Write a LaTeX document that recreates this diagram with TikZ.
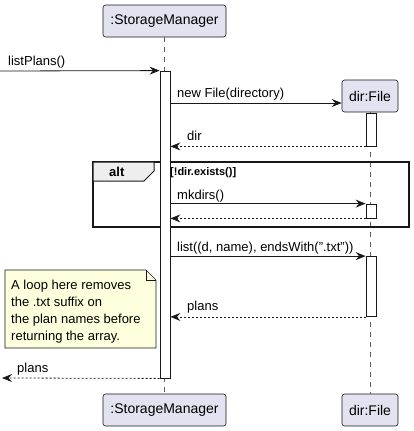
\documentclass[tikz,border=0pt]{standalone}
\usepackage{fontspec}
\setmainfont{Liberation Sans}
\usetikzlibrary{arrows.meta}
\definecolor{partfill}{HTML}{E2E2F0}
\definecolor{ink}{HTML}{181818}
\definecolor{notefill}{HTML}{FEFFDD}
\definecolor{tabfill}{HTML}{EEEEEE}
\begin{document}
\begin{tikzpicture}[x=1pt,y=-1pt,
  part/.style={draw=ink, fill=partfill, rounded corners=2.5pt, line width=0.6pt,
    minimum height=32pt, inner sep=0pt, font=\fontsize{14}{16}\selectfont, text=black},
  bar/.style={draw=ink, fill=white, line width=0.8pt, minimum width=10pt, inner sep=0pt},
  lifeline/.style={draw=ink!70, line width=0.6pt, dash pattern=on 5pt off 5pt},
  msg/.style={draw=ink, line width=0.8pt, -{Stealth[length=10pt,width=8pt,inset=3.5pt]}},
  ret/.style={msg, dash pattern=on 2pt off 2pt},
  lbl/.style={anchor=base west, inner sep=0pt, font=\fontsize{13}{15}\selectfont},
  notetxt/.style={anchor=base west, inner sep=0pt, font=\fontsize{13}{15}\selectfont}]
\useasboundingbox (0,0) rectangle (413,431);
% participants
\node[part, minimum width=123pt] (smtop) at (164.5,21) {:StorageManager};
\node[part, minimum width=56pt] (ftop) at (370,96) {dir:File};
\node[part, minimum width=123pt] (smbot) at (164.5,410) {:StorageManager};
\node[part, minimum width=56pt] (fbot) at (370,410) {dir:File};
% lifelines
\draw[lifeline] (smtop.south) -- (smbot.north);
\draw[lifeline] (ftop.south) -- (fbot.north);
% alt frame
\draw[ink, line width=1.5pt] (93,162) rectangle (409,227);
\draw[ink, fill=tabfill, line width=1pt] (93,162) -- (154,162) -- (154,171) -- (144,181) -- (93,181) -- cycle;
\node[anchor=base west, inner sep=0pt, font=\fontsize{13}{15}\selectfont\bfseries] (alttag) at (109,176) {alt};
\node[anchor=base west, inner sep=0pt, font=\fontsize{11}{13}\selectfont\bfseries] (guard) at (170,175.5) {[!dir.exists()]};
% activation bars
\node[bar, minimum height=307pt] (smbar) at (165,224.5) {};
\node[bar, minimum height=33pt] (fbar1) at (371,129.5) {};
\node[bar, minimum height=14pt] (fbar2) at (371,211) {};
\node[bar, minimum height=60pt] (fbar3) at (371,286.5) {};
% free ends
\coordinate (leftin) at (0,71);
\coordinate (leftout) at (2,378);
% messages
\draw[msg] (leftin) -- (smbar.north west);
\node[lbl] (l1) at (8,65.5) {listPlans()};
\draw[msg] (smbar.east |- 0,103) -- (ftop.west |- 0,103);
\node[lbl] (l2) at (177,97.5) {new File(directory)};
\draw[ret] (fbar1.south west) -- (smbar.east |- fbar1.south west);
\node[lbl] (l3) at (187,140.5) {dir};
\draw[msg] (smbar.east |- fbar2.north west) -- (fbar2.north west);
\node[lbl] (l4) at (177,199) {mkdirs()};
\draw[ret] (fbar2.south west) -- (smbar.east |- fbar2.south west);
\draw[msg] (smbar.east |- fbar3.north west) -- (fbar3.north west);
\node[lbl] (l5) at (177,251) {list((d, name), endsWith(".txt"))};
\draw[ret] (fbar3.south west) -- (smbar.east |- fbar3.south west);
\node[lbl] (l6) at (187,310.5) {plans};
\draw[ret] (smbar.south west) -- (leftout);
\node[lbl] (l7) at (17,372) {plans};
% note
\draw[ink, fill=notefill, line width=0.6pt] (5,270) -- (146,270) -- (156,280) -- (156,348) -- (5,348) -- cycle;
\draw[ink, line width=0.6pt] (146,270) -- (146,280) -- (156,280);
\node[notetxt] (n1) at (11,289) {A loop here removes};
\node[notetxt] (n2) at (11,306) {the .txt suffix on};
\node[notetxt] (n3) at (11,323) {the plan names before};
\node[notetxt] (n4) at (11,340) {returning the array.};
\end{tikzpicture}
\end{document}
